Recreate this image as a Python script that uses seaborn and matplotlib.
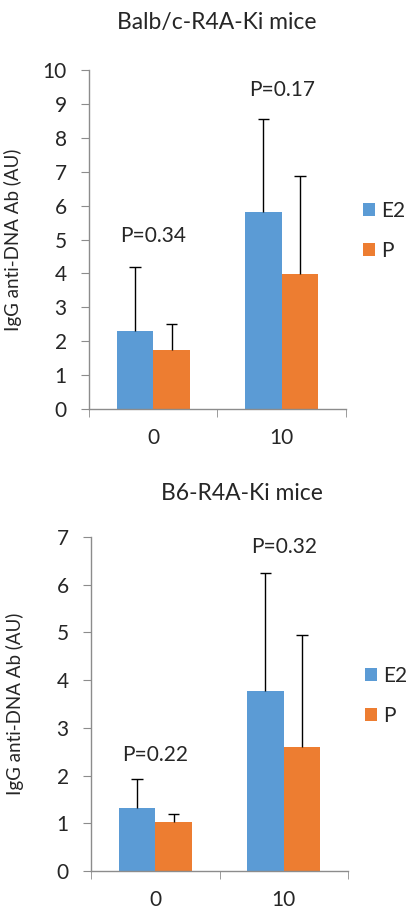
import matplotlib
matplotlib.use("Agg")
import matplotlib.pyplot as plt
import seaborn as sns
import pandas as pd
import numpy as np
from matplotlib.patches import Patch

sns.set_style("white")
plt.rcParams['font.family'] = ['Lato', 'DejaVu Sans']

categories = ["0", "10"]
groups = ["E2", "P"]

# Balb/c-R4A-Ki mice
balb_e2 = [2.3, 5.8]
balb_p = [1.75, 3.97]
balb_e2_err = [1.9, 2.77]
balb_p_err = [0.75, 2.91]
balb_pvals = ["P=0.34", "P=0.17"]
balb_pval_y = [5.1, 9.4]

# B6-R4A-Ki mice
b6_e2 = [1.32, 3.78]
b6_p = [1.03, 2.6]
b6_e2_err = [0.6, 2.47]
b6_p_err = [0.17, 2.35]
b6_pvals = ["P=0.22", "P=0.32"]
b6_pval_y = [2.43, 6.8]

colors = {"E2": "#5B9BD5", "P": "#ED7D31"}
spine_col = "#8C8C8C"


def panel(ax, e2, p, e2err, perr, pvals, pvy, ymax):
    df = pd.DataFrame({
        "cat": categories * 2,
        "grp": ["E2"] * 2 + ["P"] * 2,
        "val": list(e2) + list(p),
        "err": list(e2err) + list(perr),
    })
    sns.barplot(data=df, x="cat", y="val", hue="grp", order=categories,
                hue_order=groups, palette=colors, errorbar=None,
                width=0.57, gap=0, ax=ax, saturation=1, legend=False,
                linewidth=0, edgecolor="none")
    # error bars (upper only) using bar geometry
    cap = 0.045
    for patch, (_, row) in zip(ax.patches, df.iterrows()):
        cx = patch.get_x() + patch.get_width() / 2
        h = patch.get_height()
        ax.vlines(cx, h, h + row["err"], color="black", lw=1.0)
        ax.hlines(h + row["err"], cx - cap, cx + cap, color="black", lw=1.0)
    for i, (txt, yy) in enumerate(zip(pvals, pvy)):
        ax.text(i, yy, txt, ha="center", va="center", fontsize=15)
    ax.set_ylim(0, ymax)
    ax.set_xlim(-0.5, 1.5)
    ax.set_yticks(range(0, ymax + 1))
    ax.tick_params(axis="y", labelsize=15, length=6, color=spine_col,
                   direction="out", left=True, pad=10)
    ax.set_xticks([0, 1])
    ax.set_xticklabels(categories)
    ax.tick_params(axis="x", which="major", length=0, labelsize=15, pad=14)
    ax.set_xticks([-0.5, 0.5, 1.5], minor=True)
    ax.tick_params(axis="x", which="minor", length=6, color=spine_col,
                   direction="out", bottom=True)
    for s in ["top", "right"]:
        ax.spines[s].set_visible(False)
    for s in ["left", "bottom"]:
        ax.spines[s].set_color(spine_col)
        ax.spines[s].set_linewidth(1.0)
    ax.set_xlabel("")
    ax.set_ylabel("IgG anti-DNA Ab (AU)", fontsize=13.5)
    ax.yaxis.set_label_coords(-67 / 257, 0.5)
    handles = [Patch(facecolor=colors[g], edgecolor="none", label=g) for g in groups]
    ax.legend(handles=handles, loc="center left", bbox_to_anchor=(1.066, 0.525),
              frameon=False, fontsize=15, handlelength=0.6, handleheight=0.6,
              handletextpad=0.25, labelspacing=0.95, borderaxespad=0,
              borderpad=0)


fig = plt.figure(figsize=(4.08, 9.11), dpi=100)
ax1 = fig.add_axes([0.218, 0.551, 0.630, 0.372])
ax2 = fig.add_axes([0.223, 0.0439, 0.630, 0.3666])

panel(ax1, balb_e2, balb_p, balb_e2_err, balb_p_err, balb_pvals, balb_pval_y, 10)
panel(ax2, b6_e2, b6_p, b6_e2_err, b6_p_err, b6_pvals, b6_pval_y, 7)

fig.text(217 / 408, 1 - 22 / 911, "Balb/c-R4A-Ki mice", ha="center", va="center",
         fontsize=16.5)
fig.text(242 / 408, 1 - 493 / 911, "B6-R4A-Ki mice", ha="center", va="center",
         fontsize=16.5)

fig.savefig("out.png", dpi=100, facecolor="white")
